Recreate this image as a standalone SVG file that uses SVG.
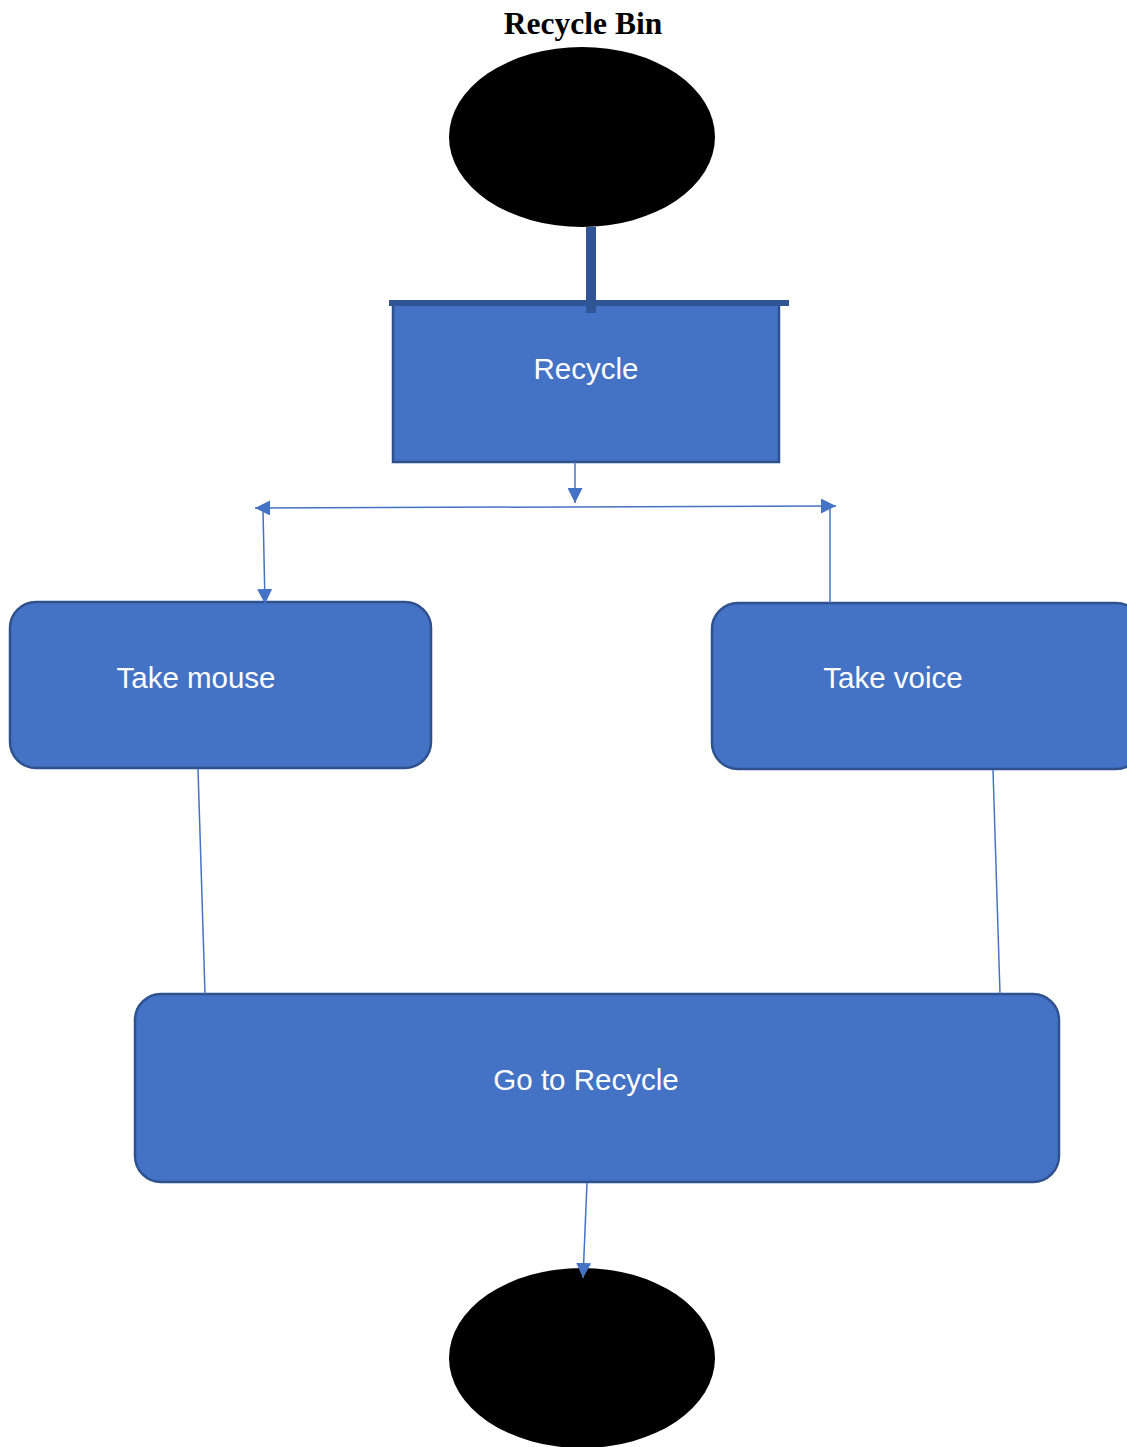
<svg xmlns="http://www.w3.org/2000/svg" width="1127" height="1447" viewBox="0 0 1127 1447">
<style>
.box{fill:#4472C4;stroke:#2F528F;stroke-width:2.5}
.lbl{font-family:"Liberation Sans",Arial,sans-serif;font-size:29.5px;fill:#fff;text-anchor:middle}
.con{stroke:#4472C4;stroke-width:1.5;fill:none}
.term{fill:#000}
</style>
<defs>
<marker id="ahs" viewBox="0 0 10 10" refX="10" refY="5" markerWidth="15" markerHeight="15" markerUnits="userSpaceOnUse" orient="auto-start-reverse">
<path d="M0,0 L10,5 L0,10 z" fill="#4472C4"/>
</marker>
</defs>
<rect width="1127" height="1447" fill="#fff"/>
<text x="583" y="34" font-family="'Liberation Serif','Times New Roman',serif" font-weight="bold" font-size="31.5" text-anchor="middle" fill="#000">Recycle Bin</text>

<g id="start"><ellipse class="term" cx="582" cy="137" rx="133" ry="90"/></g>

<g id="recycle">
<rect class="box" x="393" y="303" width="386" height="159"/>
<text class="lbl" x="586" y="379">Recycle</text>
</g>

<g id="take-mouse">
<rect class="box" x="10" y="602" width="421" height="166" rx="26"/>
<text class="lbl" x="196" y="688">Take mouse</text>
</g>

<g id="take-voice">
<rect class="box" x="712" y="603" width="430" height="166" rx="26"/>
<text class="lbl" x="893" y="688">Take voice</text>
</g>

<g id="go-to-recycle">
<rect class="box" x="135" y="994" width="924" height="188" rx="26"/>
<text class="lbl" x="586" y="1090">Go to Recycle</text>
</g>

<g id="end"><ellipse class="term" cx="582" cy="1358" rx="133" ry="90"/></g>

<g id="connectors">
<line x1="591" y1="227" x2="591" y2="313" stroke="#2F5597" stroke-width="10"/>
<line x1="389" y1="303" x2="789" y2="303" stroke="#2F5597" stroke-width="6"/>
<line class="con" x1="575" y1="462" x2="575" y2="503" marker-end="url(#ahs)"/>
<line class="con" x1="255" y1="508" x2="836" y2="506" marker-start="url(#ahs)" marker-end="url(#ahs)"/>
<line class="con" x1="263" y1="510" x2="265" y2="604" marker-end="url(#ahs)"/>
<line class="con" x1="830" y1="603" x2="830" y2="508"/>
<line class="con" x1="198" y1="769" x2="205" y2="994"/>
<line class="con" x1="993" y1="770" x2="1000" y2="994"/>
<line class="con" x1="587" y1="1183" x2="583" y2="1278" marker-end="url(#ahs)"/>
</g>
</svg>
